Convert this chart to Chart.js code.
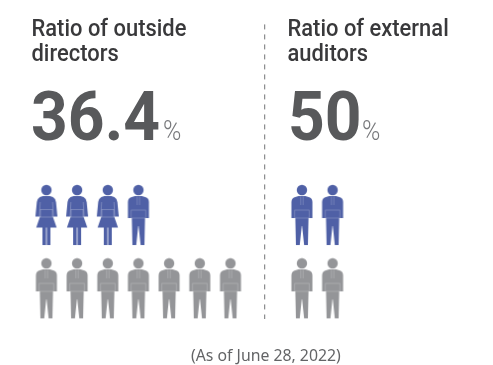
<!DOCTYPE html>
<html>
<head>
<meta charset="utf-8">
<style>
  html, body { margin: 0; padding: 0; background: #fff; }
  canvas { display: block; }
</style>
<script src="https://cdn.jsdelivr.net/npm/chart.js@4"></script>
</head>
<body>
<canvas id="board" width="493" height="365"></canvas>
<script>
var panelTitles = [["Ratio of outside", "directors"], ["Ratio of external", "auditors"]];
var ratioValues = [36.4, 50];
var outsideWomen = [3, 0];
var outsideMen = [1, 2];
var insideMen = [7, 2];
var noteText = "(As of June 28, 2022)";

var BLUE = "#4f60a6";
var GREY = "#949598";

// person icons, 22 x 60 with a little room for antialiasing
function newIcon() {
    var c = document.createElement("canvas");
    c.width = 24;
    c.height = 62;
    var g = c.getContext("2d");
    g.translate(1, 1);
    return [c, g];
}

function manIcon(color) {
    var made = newIcon(), c = made[0], g = made[1];
    g.fillStyle = color;
    g.beginPath();
    g.arc(11, 5, 5.2, 0, Math.PI * 2);
    g.fill();
    // jacket
    g.beginPath();
    g.moveTo(7.5, 11);
    g.lineTo(14.5, 11);
    g.lineTo(18.5, 12.2);
    g.quadraticCurveTo(21.5, 13.5, 21.5, 17);
    g.lineTo(21.5, 33);
    g.lineTo(0.5, 33);
    g.lineTo(0.5, 17);
    g.quadraticCurveTo(0.5, 13.5, 3.5, 12.2);
    g.closePath();
    g.fill();
    // trousers
    g.beginPath();
    g.moveTo(4.4, 33);
    g.lineTo(17.6, 33);
    g.lineTo(17, 60);
    g.lineTo(13.2, 60);
    g.lineTo(11.2, 41);
    g.lineTo(10.8, 41);
    g.lineTo(8.8, 60);
    g.lineTo(5, 60);
    g.closePath();
    g.fill();
    // hem and tie seams
    g.strokeStyle = "rgba(255,255,255,0.3)";
    g.lineWidth = 0.7;
    g.strokeRect(3.8, 25, 14.4, 8);
    g.beginPath();
    g.moveTo(9.8, 11.5);
    g.lineTo(9.8, 20);
    g.moveTo(12.2, 11.5);
    g.lineTo(12.2, 20);
    g.stroke();
    return c;
}

function womanIcon(color) {
    var made = newIcon(), c = made[0], g = made[1];
    g.fillStyle = color;
    g.beginPath();
    g.arc(11, 5, 5.2, 0, Math.PI * 2);
    g.fill();
    // bodice and sleeves
    g.beginPath();
    g.moveTo(7.5, 11);
    g.lineTo(14.5, 11);
    g.lineTo(17.5, 12);
    g.quadraticCurveTo(20.2, 13.5, 20.6, 17);
    g.lineTo(22, 31.5);
    g.lineTo(0, 31.5);
    g.lineTo(1.4, 17);
    g.quadraticCurveTo(1.8, 13.5, 4.5, 12);
    g.closePath();
    g.fill();
    // skirt
    g.beginPath();
    g.moveTo(4.8, 31);
    g.lineTo(17.2, 31);
    g.lineTo(21.2, 42.5);
    g.lineTo(0.8, 42.5);
    g.closePath();
    g.fill();
    // legs
    g.fillRect(7, 42, 3.6, 18);
    g.fillRect(11.4, 42, 3.6, 18);
    // sleeve and waist seams
    g.strokeStyle = "rgba(255,255,255,0.35)";
    g.lineWidth = 0.7;
    g.strokeRect(5, 24.5, 12, 7.5);
    g.beginPath();
    g.moveTo(4.8, 17);
    g.lineTo(4, 31.5);
    g.moveTo(17.2, 17);
    g.lineTo(18, 31.5);
    g.stroke();
    return c;
}

// one seat per person, filling each panel's two rows from the left
var auditorColumn = 8.33;
function seats(counts, row, skip) {
    var pts = [];
    counts.forEach(function (n, panel) {
        var from = panel === 0 ? 0 : auditorColumn;
        var start = skip ? skip[panel] : 0;
        for (var i = 0; i < n; i++) {
            pts.push({ x: from + start + i, y: row });
        }
    });
    return pts;
}

// fillText squeezed horizontally, the installed fonts run wider than this lettering
function narrowText(g, text, x, y, squeeze) {
    g.save();
    g.translate(x, y);
    g.scale(squeeze, 1);
    g.fillText(text, 0, 0);
    g.restore();
}

var textPlugin = {
    id: "panelText",
    afterDraw: function (chart) {
        var g = chart.ctx;
        var titleX = [31.5, 287.5], numberX = [31, 288], percentX = [163, 362];
        g.save();
        g.textBaseline = "alphabetic";
        panelTitles.forEach(function (lines, p) {
            g.fillStyle = "#39393b";
            g.font = "500 24.5px Roboto";
            narrowText(g, lines[0], titleX[p], 36, 0.895);
            narrowText(g, lines[1], titleX[p], 61, 0.895);

            g.fillStyle = "#58595b";
            g.font = "700 69px Roboto";
            narrowText(g, String(ratioValues[p]), numberX[p], 140, 0.93);

            g.fillStyle = "#77787b";
            g.font = "300 27px Roboto";
            narrowText(g, "%", percentX[p], 140, 0.92);
        });
        g.fillStyle = "#636466";
        g.font = "400 15.8px 'Noto Sans'";
        g.fillText(noteText, 191, 361);
        g.restore();
    }
};

new Chart(document.getElementById("board"), {
    type: "scatter",
    data: {
        datasets: [
            { data: seats(outsideWomen, 0), pointStyle: womanIcon(BLUE) },
            { data: seats(outsideMen, 0, outsideWomen), pointStyle: manIcon(BLUE) },
            { data: seats(insideMen, 1), pointStyle: manIcon(GREY) },
            {
                // divider between the two panels
                data: [{ x: 7.115, y: -2.6 }, { x: 7.115, y: 1.42 }],
                showLine: true,
                pointRadius: 0,
                borderColor: "#8a8b8d",
                borderWidth: 1.2,
                borderDash: [5, 5]
            }
        ]
    },
    options: {
        responsive: false,
        animation: false,
        layout: { padding: 0, autoPadding: false },
        plugins: { legend: { display: false }, tooltip: { enabled: false } },
        scales: {
            x: { display: false, min: -1.513, max: 14.56 },
            y: { display: false, reverse: true, min: -2.933, max: 2.046 }
        }
    },
    plugins: [textPlugin]
});
</script>
</body>
</html>
